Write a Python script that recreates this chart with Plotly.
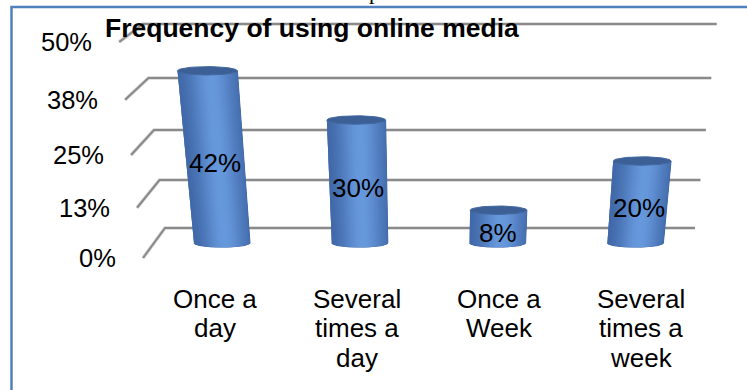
import textwrap
import numpy as np
import plotly.graph_objects as go

# ---- data -------------------------------------------------------------
categories = ["Once a day", "Several times a day", "Once a Week", "Several times a week"]
shares = [0.42, 0.30, 0.08, 0.20]
tick_values = [0.0, 0.125, 0.25, 0.375, 0.5]
tick_labels = ["0%", "13%", "25%", "38%", "50%"]
title_text = "Frequency of using online media"

# ---- canvas / projection constants -----------------------------------
W, H = 747, 390
PX_X0, PX_PER_CAT = 222.0, 137.8      # screen x of category 0, px per category
PX_Y0, PX_PER_UNIT = 243.0, 410.0     # screen y of the bar floor, px per 100 %
KEYSTONE = 0.165                      # widening with height (camera above)
CX = (432.0 - PX_X0) / PX_PER_CAT     # keystone centre, category units
RADIUS = 28.0 / PX_PER_CAT            # cylinder radius, category units
ELLIPSE_B = 4.2 / PX_PER_UNIT         # half height of the cylinder caps
WALL_FRONT_X = (143.0 - PX_X0) / PX_PER_CAT
WALL_BACK_X = (165.0 - PX_X0) / PX_PER_CAT
WALL_RIGHT_X = (695.0 - PX_X0) / PX_PER_CAT
FONT = "Liberation Sans, Arial, sans-serif"


def keystone(x, h):
    return CX + (x - CX) * (1.0 + KEYSTONE * h)


def back_wall_y(t):
    # back wall sits higher and slightly compressed relative to the bars
    return (15.0 + 376.0 * t + 64.0 * t * t) / PX_PER_UNIT


def front_wall_y(t):
    return (-15.0 + 392.0 * t + 80.0 * t * t) / PX_PER_UNIT


def body_outline(i, v, p0, p1, n=12):
    """Outline of the cylinder face between angles p0 and p1 (0 = left edge)."""
    ps = np.linspace(p0, p1, n)
    xb = i - RADIUS * np.cos(ps)
    xs = list(keystone(xb, 0)) + list(keystone(xb[::-1], v))
    ys = list(-ELLIPSE_B * np.sin(ps)) + list(v - ELLIPSE_B * np.sin(ps[::-1]))
    return xs + [None], ys + [None]


fig = go.Figure()

# ---- wall gridlines (side wall diagonal + back wall) -------------------
gx, gy = [], []
for t in tick_values:
    gx += [keystone(WALL_FRONT_X, t), keystone(WALL_BACK_X, t), keystone(WALL_RIGHT_X, t), None]
    gy += [front_wall_y(t), back_wall_y(t), back_wall_y(t), None]
fig.add_trace(go.Scatter(x=gx, y=gy, mode="lines",
                         line=dict(color="rgba(200,200,200,0.8)", width=3.5),
                         hoverinfo="skip", showlegend=False))
fig.add_trace(go.Scatter(x=gx, y=gy, mode="lines",
                         line=dict(color="rgb(138,138,138)", width=2),
                         hoverinfo="skip", showlegend=False))

# ---- cylinders: a solid body, then shaded vertical strips on top -------
dark = np.array([50, 86, 148])
light = np.array([102, 152, 220])

bx, by = [], []
for i, v in enumerate(shares):
    xs, ys = body_outline(i, v, 0, np.pi, 60)
    bx += xs
    by += ys
fig.add_trace(go.Scatter(x=bx, y=by, mode="lines", fill="toself",
                         fillcolor="rgb(70,112,180)", line=dict(color="rgb(62,100,165)", width=1),
                         hoverinfo="skip", showlegend=False))

N_STRIPS = 40
phis = np.linspace(0, np.pi, N_STRIPS + 1)
overlap = (phis[1] - phis[0]) * 0.6
for j in range(N_STRIPS):
    p0, p1 = phis[j], min(np.pi, phis[j + 1] + overlap)
    u = (1 - np.cos((phis[j] + phis[j + 1]) / 2)) / 2
    inten = 0.22 + 0.78 * np.exp(-((u - 0.56) / 0.36) ** 2)
    col = dark + (light - dark) * inten
    color = "rgb(%d,%d,%d)" % tuple(col.round().astype(int))
    sx, sy = [], []
    for i, v in enumerate(shares):
        xs, ys = body_outline(i, v, p0, p1, 3)
        sx += xs
        sy += ys
    fig.add_trace(go.Scatter(x=sx, y=sy, mode="lines", fill="toself",
                             fillcolor=color, line=dict(width=0),
                             hoverinfo="skip", showlegend=False))

# cylinder tops
tt = np.linspace(0, 2 * np.pi, 73)
ex, ey = [], []
for i, v in enumerate(shares):
    ex += list(keystone(i + RADIUS * np.cos(tt), v)) + [None]
    ey += list(v + ELLIPSE_B * np.sin(tt)) + [None]
fig.add_trace(go.Scatter(x=ex, y=ey, mode="lines", fill="toself",
                         fillcolor="rgb(60,96,150)", line=dict(color="rgb(66,104,160)", width=1),
                         hoverinfo="skip", showlegend=False))

annotations = []

# value labels in the middle of each cylinder
for i, v in enumerate(shares):
    annotations.append(dict(x=keystone(i, v / 2), y=v / 2, xref="x", yref="y",
                            text="%d%%" % round(v * 100), showarrow=False,
                            yshift=-6, font=dict(family=FONT, size=26, color="black")))

# value-axis labels beside the side wall
for t, lab in zip(tick_values, tick_labels):
    annotations.append(dict(x=keystone(WALL_FRONT_X, t), y=front_wall_y(t), xref="x", yref="y",
                            text=lab, showarrow=False, xanchor="right", yanchor="middle",
                            xshift=-25, font=dict(family=FONT, size=25.5, color="black")))

# category labels, wrapped onto several lines
LABEL_SPREAD = 142.0 / PX_PER_CAT
LABEL_MID = (428.0 - PX_X0) / PX_PER_CAT
for i, cat in enumerate(categories):
    for k, line in enumerate(textwrap.wrap(cat, 7)):
        annotations.append(dict(x=LABEL_MID + (i - 1.5) * LABEL_SPREAD, y=0, xref="x", yref="y",
                                text=line, showarrow=False, yanchor="middle",
                                yshift=-(299 - PX_Y0) - 29.3 * k,
                                font=dict(family=FONT, size=26, color="black")))

# chart title
annotations.append(dict(x=311.5 / W, y=1 - 28.0 / H, xref="paper", yref="paper",
                        text="<b>%s</b>" % title_text, showarrow=False,
                        xanchor="center", yanchor="middle",
                        font=dict(family=FONT, size=26.5, color="black")))

# descender of the line of body text above the chart frame
annotations.append(dict(x=367.0 / W, y=1, xref="paper", yref="paper", text="p",
                        showarrow=False, xanchor="left", yanchor="bottom", yshift=-6.3,
                        font=dict(family="Liberation Serif, Times New Roman, serif",
                                  size=22, color="black")))

fig.update_layout(
    width=W, height=H, autosize=False,
    margin=dict(l=0, r=0, t=0, b=0),
    paper_bgcolor="white", plot_bgcolor="white",
    xaxis=dict(range=[(0 - PX_X0) / PX_PER_CAT, (W - PX_X0) / PX_PER_CAT],
               visible=False, fixedrange=True),
    yaxis=dict(range=[(PX_Y0 - H) / PX_PER_UNIT, PX_Y0 / PX_PER_UNIT],
               visible=False, fixedrange=True),
    annotations=annotations,
    shapes=[dict(type="rect", xref="paper", yref="paper",
                 x0=11.5 / W, x1=1.05, y0=-0.05, y1=1 - 7.0 / H,
                 line=dict(color="rgb(79,129,189)", width=2.5), layer="above")],
    showlegend=False,
)

fig.write_html("out.html", config={"displayModeBar": False})
